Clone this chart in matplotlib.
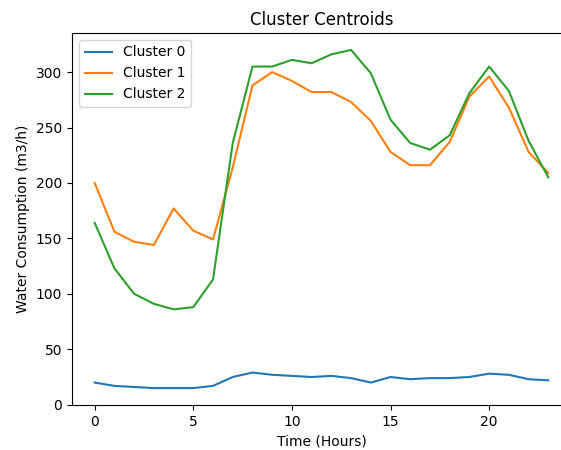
import matplotlib
matplotlib.use('Agg')
import matplotlib.pyplot as plt

# Години доби
hours = list(range(24))

# Центроїди кластерів (м3/год)
cluster0 = [20, 17, 16, 15, 15, 15, 17, 25, 29, 27, 26, 25,
            26, 24, 20, 25, 23, 24, 24, 25, 28, 27, 23, 22]
cluster1 = [200, 156, 147, 144, 177, 157, 149, 214, 288, 300, 292, 282,
            282, 273, 256, 228, 216, 216, 237, 278, 296, 268, 228, 209]
cluster2 = [164, 123, 100, 91, 86, 88, 113, 236, 305, 305, 311, 308,
            316, 320, 299, 257, 236, 230, 243, 281, 305, 283, 238, 205]

labels = ['Cluster 0', 'Cluster 1', 'Cluster 2']

fig = plt.figure(figsize=(5.61, 4.5), dpi=100)
# вісь трохи виходить за правий край, як у вихідному зображенні
ax = fig.add_axes([72 / 561, 45 / 450, 499 / 561, 372 / 450])

for values, label in zip([cluster0, cluster1, cluster2], labels):
    ax.plot(hours, values, label=label)

ax.set_xlabel('Time (Hours)')
ax.set_ylabel('Water Consumption (m3/h)')
ax.set_title('Cluster Centroids')
ax.legend(loc='upper left')

plt.savefig('out.png', dpi=100)
plt.close()
